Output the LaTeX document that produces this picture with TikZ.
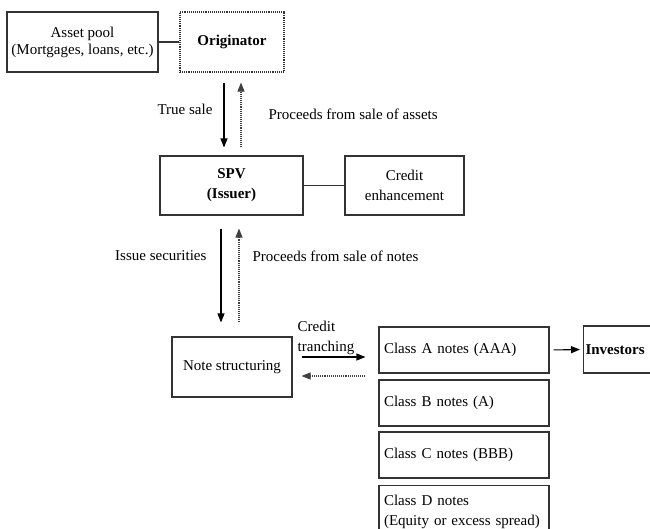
\documentclass[tikz,border=0pt]{standalone}
\usepackage{fontspec}
\setmainfont{Liberation Serif}
\usetikzlibrary{arrows.meta}

\tikzset{
  box/.style={draw=black!80, line width=1.1pt, align=center, inner sep=2pt},
  tranche/.style={box, minimum height=46pt, text width=160pt, inner xsep=5pt, align=left},
  flow/.style={-{Triangle[length=9pt,width=7pt]}, line width=1.1pt},
  backflow/.style={flow, densely dotted, draw=black!75},
  lbl/.style={inner sep=2pt}
}

\begin{document}
\begin{tikzpicture}[x=1pt, y=-1pt, font=\fontsize{15}{20}\selectfont]

\clip (0,0) rectangle (650,528);

% top row
\node[box, minimum width=151pt, minimum height=60pt, font=\fontsize{15}{17}\selectfont] (pool) at (82.5,42) {Asset pool\\(Mortgages, loans, etc.)};
\node[box, densely dotted, minimum width=104pt, minimum height=60pt] (orig) at (232,42) {\textbf{Originator}};
\draw[line width=1.1pt, black!80] (pool) -- (orig);

% issuer row
\node[box, minimum width=143pt, minimum height=59pt] (spv) at (231.5,185.5) {\textbf{SPV}\\\textbf{(Issuer)}};
\node[box, minimum width=119pt, minimum height=59pt] (credit) at (404.5,185.5) {Credit\\enhancement};
\draw[line width=1.1pt, black!80] (spv) -- (credit);

\draw[flow, shorten <=10pt, shorten >=8pt] ([xshift=-8pt]orig.south) -- node[lbl, left=9pt, pos=0.45] {True sale} ([xshift=-8pt]orig.south |- spv.north);
\draw[backflow, shorten <=8pt, shorten >=10pt] ([xshift=9.5pt]spv.north) -- node[lbl, right=25pt, pos=0.5] {Proceeds from sale of assets} ([xshift=9.5pt]spv.north |- orig.south);

% structuring
\node[box, minimum width=120pt, minimum height=60pt] (notes) at (232,367) {Note structuring};

\draw[flow, shorten <=13pt, shorten >=14pt] ([xshift=-10.5pt]spv.south) -- node[lbl, left=12pt, pos=0.33] {Issue securities} ([xshift=-10.5pt]spv.south |- notes.north);
\draw[backflow, shorten <=14pt, shorten >=13pt] ([xshift=7.5pt]spv.south |- notes.north) -- node[lbl, right=11pt, pos=0.66] {Proceeds from sale of notes} ([xshift=7.5pt]spv.south);

% tranches
\node[tranche] (classA) at (464,350) {Class A notes (AAA)};
\node[tranche] (classB) at (464,403) {Class B notes (A)};
\node[tranche] (classC) at (464,455) {Class C notes (BBB)};
\node[tranche, minimum height=52pt, anchor=north] (classD) at (464,485) {Class D notes\\(Equity or excess spread)};

\draw[flow, shorten <=9pt, shorten >=13pt] ([yshift=10pt]notes.east) -- node[lbl, above, align=left, pos=0.39] {Credit\\tranching} ([yshift=10pt]notes.east -| classA.west);
\draw[backflow, shorten <=13pt, shorten >=9pt] ([yshift=-9pt]notes.east -| classA.west) -- ([yshift=-9pt]notes.east);

\node[box, anchor=west, minimum height=47pt, text width=86pt, align=left] (inv) at (583,349.5) {\textbf{Investors}};
\draw[flow, shorten <=4pt, shorten >=3pt] (classA.east) -- (inv.west);

\end{tikzpicture}
\end{document}
